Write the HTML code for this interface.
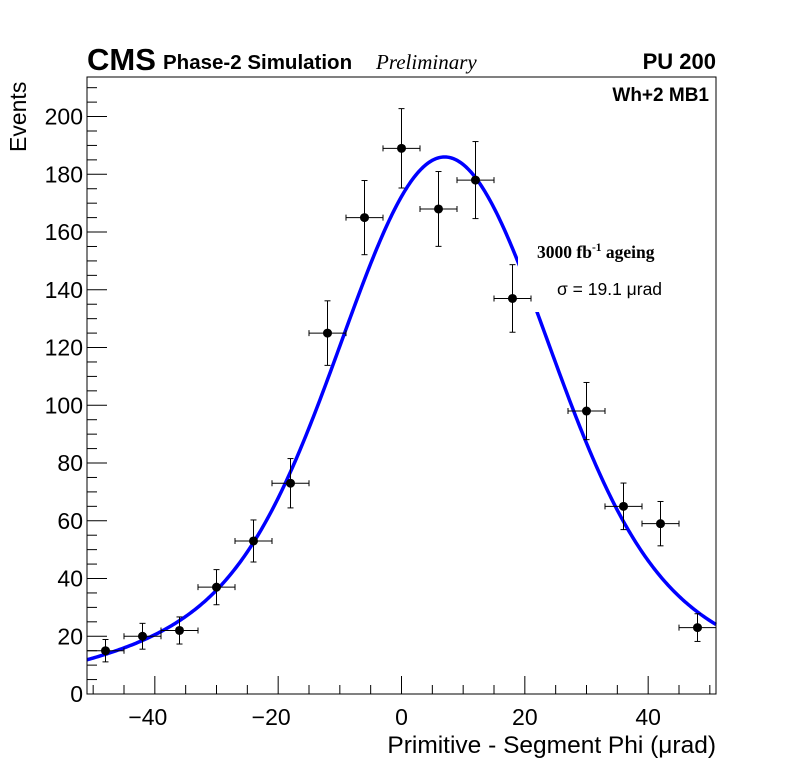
<!DOCTYPE html>
<html><head><meta charset="utf-8">
<style>
html,body{margin:0;padding:0;background:#fff;}
svg{display:block;font-family:"Liberation Sans",sans-serif;}
</style></head>
<body>
<svg id="chart" width="796" height="772" viewBox="0 0 796 772">
<rect width="796" height="772" fill="#fff"/>
<g id="curve-layer"></g>
<rect x="518" y="222" width="27" height="90" fill="#fff"/>
<g id="points-layer"></g>
<g id="axes-layer"></g>
<text x="87" y="70" font-size="31" font-weight="bold">CMS</text>
<text x="163" y="69" font-size="20.5" font-weight="bold">Phase-2 Simulation</text>
<text x="376" y="69" font-size="21" font-style="italic" font-family="Liberation Serif,serif">Preliminary</text>
<text x="716" y="69" font-size="22" font-weight="bold" text-anchor="end">PU 200</text>
<text x="709" y="101" font-size="19" font-weight="bold" text-anchor="end">Wh+2 MB1</text>
<text x="537" y="258" font-size="17.5" font-weight="bold" font-family="Liberation Serif,serif">3000 fb<tspan dy="-7" font-size="11.5">-1</tspan><tspan dy="7"> ageing</tspan></text>
<text x="557" y="295" font-size="17.5">σ = 19.1 μrad</text>
<text x="716" y="753" font-size="24.5" text-anchor="end">Primitive - Segment Phi (μrad)</text>
<text transform="translate(26,152) rotate(-90)" font-size="23">Events</text>
</svg>
<script>
const binCenters=[-48,-42,-36,-30,-24,-18,-12,-6,0,6,12,18,30,36,42,48];
const binCounts=[15,20,22,37,53,73,125,165,189,168,178,137,98,65,59,23];
const binHalfWidth=3;
const fitCoreAmp=140, fitCoreSigma=16, fitTailAmp=46, fitTailSigma=35, fitMean=7;
const xTicks=[-40,-20,0,20,40];
const yTicks=[0,20,40,60,80,100,120,140,160,180,200];

const L=87,R=716,T=77,B=694,xmin=-51,xmax=51,ymax=213.7;
const X=v=>L+(v-xmin)/(xmax-xmin)*(R-L);
const Y=v=>B-v/ymax*(B-T);
const NS="http://www.w3.org/2000/svg";
function mk(tag,attrs,parent){const e=document.createElementNS(NS,tag);for(const k in attrs)e.setAttribute(k,attrs[k]);parent.appendChild(e);return e;}
const fit=x=>fitCoreAmp*Math.exp(-((x-fitMean)**2)/(2*fitCoreSigma**2))+fitTailAmp*Math.exp(-((x-fitMean)**2)/(2*fitTailSigma**2));

const cl=document.getElementById('curve-layer');
let d='';
for(let x=xmin;x<=xmax+1e-9;x+=0.25){d+=(d?'L':'M')+X(x).toFixed(2)+','+Y(fit(x)).toFixed(2);}
const cp=mk('path',{d:d,fill:'none',stroke:'#0000ff','stroke-width':3.5},cl);



const pl=document.getElementById('points-layer');
binCenters.forEach((c,i)=>{
  const n=binCounts[i],e=Math.sqrt(n);
  const g=mk('g',{},pl);
  
  
  const cx=X(c),cy=Y(n);
  mk('line',{x1:X(c-binHalfWidth),x2:X(c+binHalfWidth),y1:cy,y2:cy,stroke:'#000','stroke-width':1},g);
  mk('line',{x1:cx,x2:cx,y1:Y(n-e),y2:Y(n+e),stroke:'#000','stroke-width':1},g);
  [X(c-binHalfWidth),X(c+binHalfWidth)].forEach(x=>mk('line',{x1:x,x2:x,y1:cy-3,y2:cy+3,stroke:'#000'},g));
  [Y(n-e),Y(n+e)].forEach(y=>mk('line',{x1:cx-3,x2:cx+3,y1:y,y2:y,stroke:'#000'},g));
  mk('circle',{cx:cx,cy:cy,r:4.5,fill:'#000'},g);
});

const al=document.getElementById('axes-layer');
const fr=mk('rect',{x:L,y:T,width:R-L,height:B-T,fill:'none',stroke:'#000','stroke-width':1},al);


for(let v=-50;v<=50;v+=5){const maj=v%20===0;mk('line',{x1:X(v),x2:X(v),y1:B,y2:B-(maj?18:9),stroke:'#000'},al);}
for(let v=0;v<=ymax;v+=5){const maj=v%20===0;mk('line',{x1:L,x2:L+(maj?20:10),y1:Y(v),y2:Y(v),stroke:'#000'},al);}
xTicks.forEach(v=>{const t=mk('text',{x:X(v)-(v<0?7:0),y:B+31,'font-size':23,'text-anchor':'middle'},al);t.textContent=v<0?'\u2212'+Math.abs(v):String(v);
  
  });
yTicks.forEach(v=>{const t=mk('text',{x:L-4,y:Y(v)+8,'font-size':23,'text-anchor':'end'},al);t.textContent=String(v);
  
  });
</script>
</body></html>
